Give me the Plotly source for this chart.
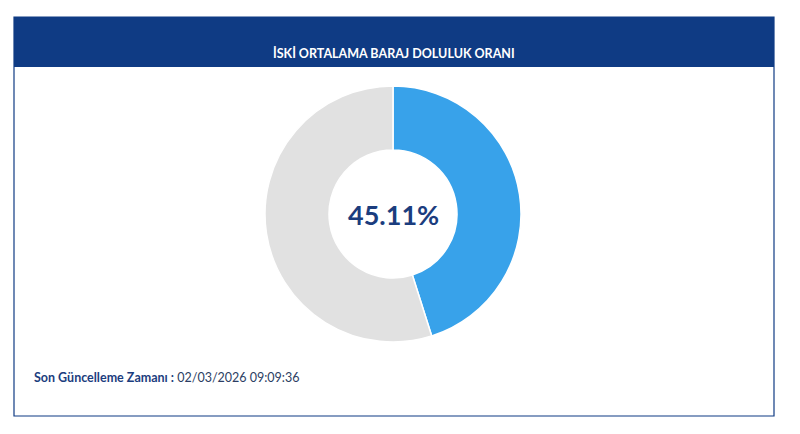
import plotly.graph_objects as go

# page body adds an 8px margin, so the figure is drawn a bit smaller
OFF = 8
W, H = 800 - 2 * OFF, 434 - 2 * OFF

labels = ["Doluluk", "Boş"]
values = [45.11, 54.89]
colors = ["#38a2ea", "#e1e1e1"]
title_text = "İSKİ ORTALAMA BARAJ DOLULUK ORANI"
updated_label = "Son Güncelleme Zamanı :"
updated_value = "02/03/2026 09:09:36"


def px(x):
    return (x - OFF) / W


def py(y):
    return 1 - (y - OFF) / H


fig = go.Figure(go.Pie(
    labels=labels,
    values=values,
    hole=0.5,
    sort=False,
    direction="counterclockwise",
    rotation=0,
    marker=dict(colors=colors, line=dict(color="white", width=1.5)),
    textinfo="none",
    hoverinfo="label+value",
    showlegend=False,
    domain=dict(x=[px(265), px(521)], y=[py(342), py(86)]),
))

navy = "#0f3b84"
shapes = [
    # card outline
    dict(type="rect", xref="paper", yref="paper",
         x0=px(14), x1=px(774), y0=py(416), y1=py(17),
         line=dict(color=navy, width=1.2), fillcolor="white", layer="below"),
    # header band
    dict(type="rect", xref="paper", yref="paper",
         x0=px(14), x1=px(774), y0=py(67), y1=py(17),
         line=dict(width=0), fillcolor=navy, layer="below"),
]

annotations = [
    dict(text=f"<b>{title_text}</b>", x=px(394), y=py(43), xref="paper", yref="paper",
         showarrow=False, font=dict(color="white", size=12.5, family="Lato")),
    dict(text=f"<b>{values[0]:.2f}%</b>", x=px(393), y=py(214), xref="paper", yref="paper",
         showarrow=False, font=dict(color="#1b3d7e", size=27, family="Lato")),
    dict(text=f"<b>{updated_label}</b> <span style='color:#2c3e63'>{updated_value}</span>",
         x=px(32), y=py(387), xref="paper", yref="paper", xanchor="left",
         showarrow=False, font=dict(color="#1b3d7e", size=12.5, family="Lato")),
]

fig.update_layout(
    width=W, height=H,
    margin=dict(l=0, r=0, t=0, b=0),
    paper_bgcolor="white",
    plot_bgcolor="white",
    shapes=shapes,
    annotations=annotations,
)

fig.write_html("out.html")
